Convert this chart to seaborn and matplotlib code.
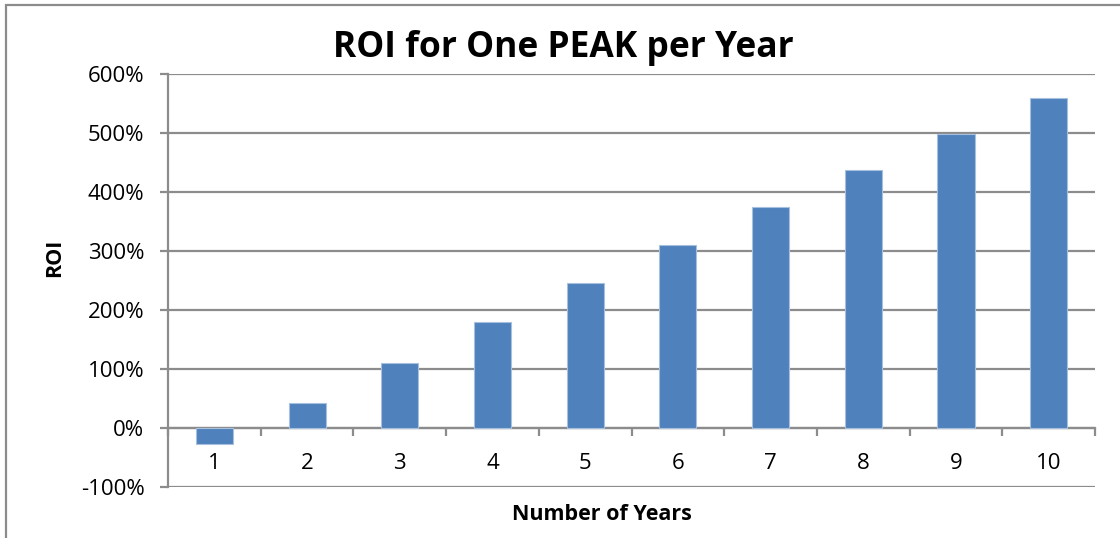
import matplotlib
matplotlib.use("Agg")
import matplotlib.pyplot as plt
from matplotlib.patches import Rectangle
from matplotlib.ticker import FixedLocator, FuncFormatter
import seaborn as sns
import pandas as pd

years = ["1", "2", "3", "4", "5", "6", "7", "8", "9", "10"]
roi = [-27, 42, 111, 179, 245, 310, 375, 437, 499, 559]
yticks = [-100, 0, 100, 200, 300, 400, 500, 600]
title = "ROI for One PEAK per Year"
xlabel = "Number of Years"
ylabel = "ROI"

sns.set_theme(style="white")
plt.rcParams["font.family"] = ["Open Sans", "DejaVu Sans"]
plt.rcParams["text.color"] = "black"

df = pd.DataFrame({"year": years, "roi": roi})

fig = plt.figure(figsize=(11.2, 5.38), dpi=100)
ax = fig.add_axes([0.15, 0.0948, 0.8277, 0.7677])

sns.barplot(data=df, x="year", y="roi", color="#4F81BD", saturation=1,
            width=0.4, edgecolor="#A7C0DE", linewidth=0.8, ax=ax, zorder=3)

grid_c = "#8C8C8C"
ax.set_ylim(-100, 600)
ax.set_xlim(-0.5, len(years) - 0.5)
ax.set_yticks(yticks)
ax.yaxis.set_major_formatter(FuncFormatter(lambda v, p: f"{v:.0f}%"))
for t in yticks:
    ax.axhline(t, color=grid_c, lw=1.6, zorder=1)

ax.spines["top"].set_visible(False)
ax.spines["right"].set_visible(False)
ax.spines["left"].set_color(grid_c)
ax.spines["left"].set_linewidth(1.6)
ax.spines["bottom"].set_position(("data", 0))
ax.spines["bottom"].set_color(grid_c)
ax.spines["bottom"].set_linewidth(1.6)

ax.xaxis.set_minor_locator(FixedLocator([i - 0.5 for i in range(len(years) + 1)]))
ax.tick_params(axis="x", which="major", length=0, pad=18, labelsize=16, labelcolor="black")
ax.tick_params(axis="x", which="minor", length=6, width=1.6, color=grid_c, bottom=True)
ax.tick_params(axis="y", which="major", length=6, width=1.6, color=grid_c, left=True,
               labelsize=16, labelcolor="black", pad=11)

ax.set_xlabel("")
ax.set_ylabel("")
fig.text(0.5375, 0.044, xlabel, ha="center", va="center", fontsize=15.5, fontweight="bold")
fig.text(0.049, 0.52, ylabel, ha="center", va="center", rotation=90, fontsize=15.5, fontweight="bold")
fig.text(0.503, 0.91, title, ha="center", va="center", fontsize=25.5, fontweight="bold")

fig.patches.append(Rectangle((0.0055, -0.1), 1.2, 1.09, transform=fig.transFigure,
                             fill=False, edgecolor="#8C8C8C", lw=1.6))

fig.savefig("out.png", dpi=100)
